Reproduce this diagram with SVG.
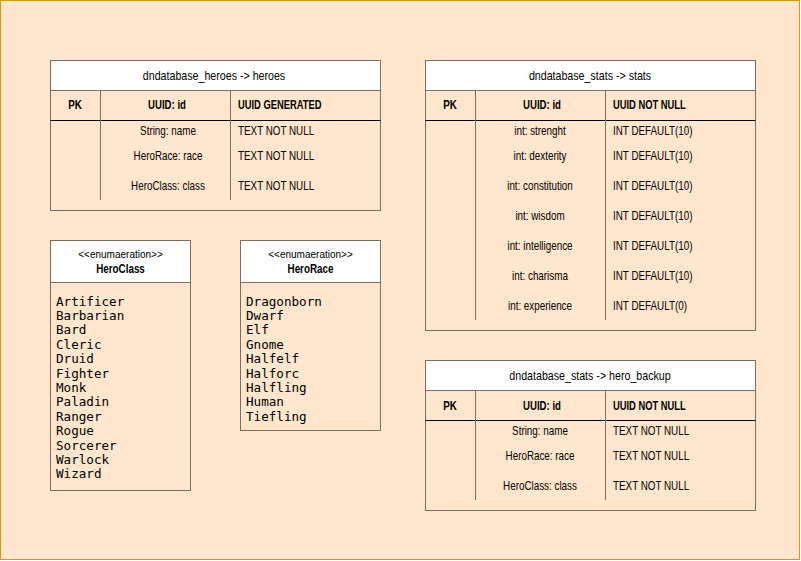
<svg xmlns="http://www.w3.org/2000/svg" width="801" height="561" viewBox="0 0 801 561">
<style>
.t{font-family:"Liberation Sans",Arial,sans-serif;font-size:12px;fill:#000}
.h{font-size:13px}
.c{text-anchor:middle}
.b{font-weight:bold}
.s{font-size:10px}
.m{font-family:"DejaVu Sans Mono","Liberation Mono",monospace;font-size:12.6px;fill:#000}
.box{fill:none;stroke:#7a6e63;stroke-width:1}
.hd{fill:#ffffff;stroke:#7a6e63;stroke-width:1}
.ln{stroke:#7a6e63;stroke-width:1}
.pk{stroke:#000;stroke-width:1}
</style>
<rect x="0.5" y="0.5" width="799" height="559" fill="#FFE6CC" stroke="#D79B00" stroke-width="1"/>

<g id="heroes">
<rect class="box" x="50.5" y="60.5" width="330" height="150"/>
<rect class="hd" x="50.5" y="60.5" width="330" height="30"/>
<line class="pk" x1="50.5" y1="120.5" x2="380.5" y2="120.5"/>
<line class="ln" x1="100.5" y1="90.5" x2="100.5" y2="200"/>
<line class="ln" x1="230.5" y1="90.5" x2="230.5" y2="200"/>
<text class="t h c" transform="matrix(0.82 0 0 1 214 80)">dndatabase_heroes -&gt; heroes</text>
<text class="t c b" transform="matrix(0.82 0 0 1 75 109)">PK</text>
<text class="t c b" transform="matrix(0.8 0 0 1 167 109)">UUID: id</text>
<text class="t b" transform="matrix(0.78 0 0 1 238 109)">UUID GENERATED</text>
<text class="t c" transform="matrix(0.82 0 0 1 168 135)">String: name</text>
<text class="t" transform="matrix(0.82 0 0 1 238 135)">TEXT NOT NULL</text>
<text class="t c" transform="matrix(0.82 0 0 1 168 160)">HeroRace: race</text>
<text class="t" transform="matrix(0.82 0 0 1 238 160)">TEXT NOT NULL</text>
<text class="t c" transform="matrix(0.82 0 0 1 168 190)">HeroClass: class</text>
<text class="t" transform="matrix(0.82 0 0 1 238 190)">TEXT NOT NULL</text>
</g>

<g id="stats">
<rect class="box" x="425.5" y="60.5" width="330" height="270"/>
<rect class="hd" x="425.5" y="60.5" width="330" height="30"/>
<line class="pk" x1="425.5" y1="120.5" x2="755.5" y2="120.5"/>
<line class="ln" x1="475.5" y1="90.5" x2="475.5" y2="320"/>
<line class="ln" x1="605.5" y1="90.5" x2="605.5" y2="320"/>
<text class="t h c" transform="matrix(0.82 0 0 1 590 80)">dndatabase_stats -&gt; stats</text>
<text class="t c b" transform="matrix(0.82 0 0 1 450 109)">PK</text>
<text class="t c b" transform="matrix(0.8 0 0 1 542 109)">UUID: id</text>
<text class="t b" transform="matrix(0.78 0 0 1 613 109)">UUID NOT NULL</text>
<text class="t c" transform="matrix(0.82 0 0 1 540 135)">int: strenght</text>
<text class="t" transform="matrix(0.82 0 0 1 613 135)">INT DEFAULT(10)</text>
<text class="t c" transform="matrix(0.82 0 0 1 540 160)">int: dexterity</text>
<text class="t" transform="matrix(0.82 0 0 1 613 160)">INT DEFAULT(10)</text>
<text class="t c" transform="matrix(0.82 0 0 1 540 190)">int: constitution</text>
<text class="t" transform="matrix(0.82 0 0 1 613 190)">INT DEFAULT(10)</text>
<text class="t c" transform="matrix(0.82 0 0 1 540 220)">int: wisdom</text>
<text class="t" transform="matrix(0.82 0 0 1 613 220)">INT DEFAULT(10)</text>
<text class="t c" transform="matrix(0.82 0 0 1 540 250)">int: intelligence</text>
<text class="t" transform="matrix(0.82 0 0 1 613 250)">INT DEFAULT(10)</text>
<text class="t c" transform="matrix(0.82 0 0 1 540 280)">int: charisma</text>
<text class="t" transform="matrix(0.82 0 0 1 613 280)">INT DEFAULT(10)</text>
<text class="t c" transform="matrix(0.82 0 0 1 540 310)">int: experience</text>
<text class="t" transform="matrix(0.82 0 0 1 613 310)">INT DEFAULT(0)</text>
</g>

<g id="hero_backup">
<rect class="box" x="425.5" y="360.5" width="330" height="150"/>
<rect class="hd" x="425.5" y="360.5" width="330" height="30"/>
<line class="pk" x1="425.5" y1="420.5" x2="755.5" y2="420.5"/>
<line class="ln" x1="475.5" y1="390.5" x2="475.5" y2="500"/>
<line class="ln" x1="605.5" y1="390.5" x2="605.5" y2="500"/>
<text class="t h c" transform="matrix(0.82 0 0 1 590 380)">dndatabase_stats -&gt; hero_backup</text>
<text class="t c b" transform="matrix(0.82 0 0 1 450 410)">PK</text>
<text class="t c b" transform="matrix(0.8 0 0 1 542 410)">UUID: id</text>
<text class="t b" transform="matrix(0.78 0 0 1 613 410)">UUID NOT NULL</text>
<text class="t c" transform="matrix(0.82 0 0 1 540 435)">String: name</text>
<text class="t" transform="matrix(0.82 0 0 1 613 435)">TEXT NOT NULL</text>
<text class="t c" transform="matrix(0.82 0 0 1 540 460)">HeroRace: race</text>
<text class="t" transform="matrix(0.82 0 0 1 613 460)">TEXT NOT NULL</text>
<text class="t c" transform="matrix(0.82 0 0 1 540 490)">HeroClass: class</text>
<text class="t" transform="matrix(0.82 0 0 1 613 490)">TEXT NOT NULL</text>
</g>

<g id="HeroClass">
<rect class="box" x="50.5" y="240.5" width="140" height="250"/>
<rect class="hd" x="50.5" y="240.5" width="140" height="42"/>
<text class="t c s" x="120.5" y="257.5">&lt;&lt;enumaeration&gt;&gt;</text>
<text class="t c b" transform="matrix(0.82 0 0 1 120.5 273)">HeroClass</text>
<text class="m" x="56" y="305.5">Artificer</text>
<text class="m" x="56" y="319.9">Barbarian</text>
<text class="m" x="56" y="334.3">Bard</text>
<text class="m" x="56" y="348.7">Cleric</text>
<text class="m" x="56" y="363.1">Druid</text>
<text class="m" x="56" y="377.5">Fighter</text>
<text class="m" x="56" y="391.9">Monk</text>
<text class="m" x="56" y="406.3">Paladin</text>
<text class="m" x="56" y="420.7">Ranger</text>
<text class="m" x="56" y="435.1">Rogue</text>
<text class="m" x="56" y="449.5">Sorcerer</text>
<text class="m" x="56" y="463.9">Warlock</text>
<text class="m" x="56" y="478.3">Wizard</text>
</g>

<g id="HeroRace">
<rect class="box" x="240.5" y="240.5" width="140" height="190"/>
<rect class="hd" x="240.5" y="240.5" width="140" height="42"/>
<text class="t c s" x="310.5" y="257.5">&lt;&lt;enumaeration&gt;&gt;</text>
<text class="t c b" transform="matrix(0.82 0 0 1 310.5 273)">HeroRace</text>
<text class="m" x="246" y="305.5">Dragonborn</text>
<text class="m" x="246" y="319.9">Dwarf</text>
<text class="m" x="246" y="334.3">Elf</text>
<text class="m" x="246" y="348.7">Gnome</text>
<text class="m" x="246" y="363.1">Halfelf</text>
<text class="m" x="246" y="377.5">Halforc</text>
<text class="m" x="246" y="391.9">Halfling</text>
<text class="m" x="246" y="406.3">Human</text>
<text class="m" x="246" y="420.7">Tiefling</text>
</g>

<g id="connectors"></g>
</svg>
